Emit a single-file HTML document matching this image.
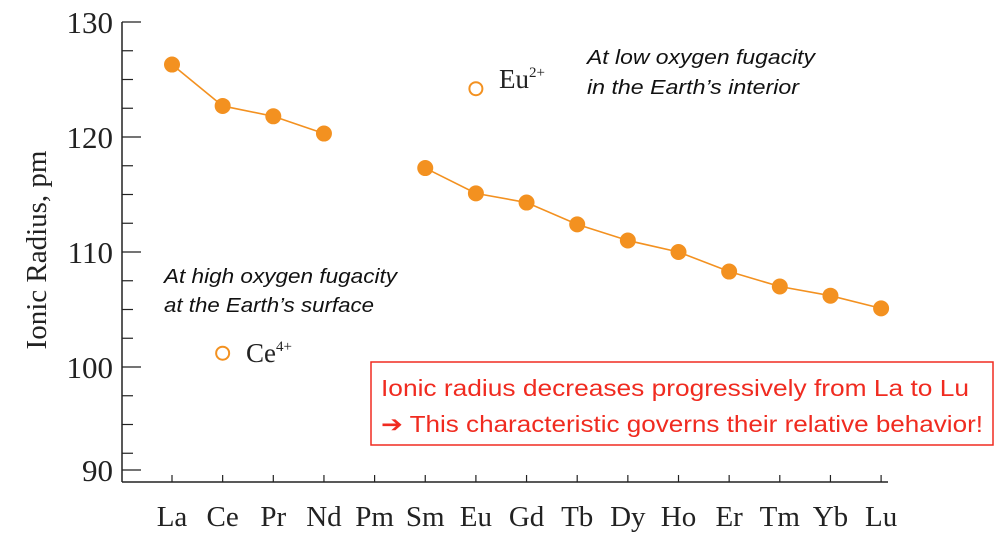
<!DOCTYPE html>
<html><head><meta charset="utf-8"><style>
body{margin:0;background:#fff;width:1004px;height:543px;overflow:hidden}
svg{display:block}
</style></head><body>
<svg width="1004" height="543">
<g id="axes"></g>
<g id="marks"></g>
<text transform="translate(46,250) rotate(-90)" text-anchor="middle" font-family="Liberation Serif,serif" font-size="29" fill="#222">Ionic Radius, pm</text>
<text font-family="Liberation Sans,sans-serif" font-style="italic" font-size="20" fill="#111"><tspan x="587" y="64" textLength="228" lengthAdjust="spacingAndGlyphs">At low oxygen fugacity</tspan><tspan x="587" y="94" textLength="212" lengthAdjust="spacingAndGlyphs">in the Earth’s interior</tspan></text>
<text font-family="Liberation Sans,sans-serif" font-style="italic" font-size="20" fill="#111"><tspan x="164" y="283" textLength="233" lengthAdjust="spacingAndGlyphs">At high oxygen fugacity</tspan><tspan x="164" y="312" textLength="210" lengthAdjust="spacingAndGlyphs">at the Earth’s surface</tspan></text>
<text x="499" y="88" font-family="Liberation Serif,serif" font-size="27" fill="#222">Eu<tspan dy="-11" font-size="15">2+</tspan></text>
<text x="246" y="362" font-family="Liberation Serif,serif" font-size="27" fill="#222">Ce<tspan dy="-11" font-size="15">4+</tspan></text>
<rect x="371" y="362" width="622" height="83" fill="#fff" stroke="#f02b20" stroke-width="1.5"/>
<text font-family="Liberation Sans,sans-serif" font-size="23" fill="#f02b20"><tspan x="381" y="396" textLength="588" lengthAdjust="spacingAndGlyphs">Ionic radius decreases progressively from La to Lu</tspan><tspan x="381" y="432" textLength="602" lengthAdjust="spacingAndGlyphs">➔ This characteristic governs their relative behavior!</tspan></text>
</svg>
<script>
const categories=["La","Ce","Pr","Nd","Pm","Sm","Eu","Gd","Tb","Dy","Ho","Er","Tm","Yb","Lu"];
const radii3=[126.3,122.7,121.8,120.3,null,117.3,115.1,114.3,112.4,111.0,110.0,108.3,107.0,106.2,105.1];
const eu2Value=[124.2];
const ce4Value=[101.2];
const yTicks=[130,120,110,100,90];
const NS="http://www.w3.org/2000/svg";
const xs=i=>172+i*50.65;
const ys=v=>22+(130-v)*11.5;
const yTickPos=v=>v===90?470:ys(v);
const axes=document.getElementById('axes'),marks=document.getElementById('marks');
function mk(tag,attrs,parent){const e=document.createElementNS(NS,tag);for(const k in attrs)e.setAttribute(k,attrs[k]);parent.appendChild(e);return e;}
let yl=mk('line',{x1:122,y1:22,x2:122,y2:482,stroke:'#222','stroke-width':1.5},axes);


let xl=mk('line',{x1:122,y1:482,x2:888,y2:482,stroke:'#222','stroke-width':1.5},axes);


yTicks.forEach(v=>{const y=yTickPos(v);
 let t=mk('line',{x1:122,y1:y,x2:141,y2:y,stroke:'#222','stroke-width':1.3},axes);
 
 
 let l=mk('text',{x:113,y:y+11,'text-anchor':'end','font-family':'Liberation Serif,serif','font-size':31,fill:'#222'},axes);
 l.textContent=v;
 
 
});
[127.5,125,122.5,117.5,115,112.5,107.5,105,102.5,97.5,95,92.5].forEach(v=>{const y=ys(v);if(y>462)return;
 let t=mk('line',{x1:122,y1:y,x2:133,y2:y,stroke:'#222','stroke-width':1.2},axes);
 
 
});
categories.forEach((c,i)=>{const x=xs(i);
 let t=mk('line',{x1:x,y1:482,x2:x,y2:475,stroke:'#222','stroke-width':1.2},axes);
 
 
 let l=mk('text',{x:x,y:526,'text-anchor':'middle','font-family':'Liberation Serif,serif','font-size':29,fill:'#222'},axes);
 l.textContent=c;
 
 
});
function seg(a,b){let d='';for(let i=a;i<=b;i++)d+=(i===a?'M':'L')+xs(i)+','+ys(radii3[i]);
 let p=mk('path',{d:d,fill:'none',stroke:'#f39120','stroke-width':1.6},marks);
 
 }
seg(0,3);seg(5,14);
radii3.forEach((v,i)=>{if(v==null)return;
 let c=mk('circle',{cx:xs(i),cy:ys(v),r:8,fill:'#f39120'},marks);
 
 
});
let e=mk('circle',{cx:xs(6),cy:ys(eu2Value[0]),r:6.5,fill:'#fff',stroke:'#f39120','stroke-width':2},marks);


let c4=mk('circle',{cx:xs(1),cy:ys(ce4Value[0]),r:6.5,fill:'#fff',stroke:'#f39120','stroke-width':2},marks);


</script>
</body></html>
